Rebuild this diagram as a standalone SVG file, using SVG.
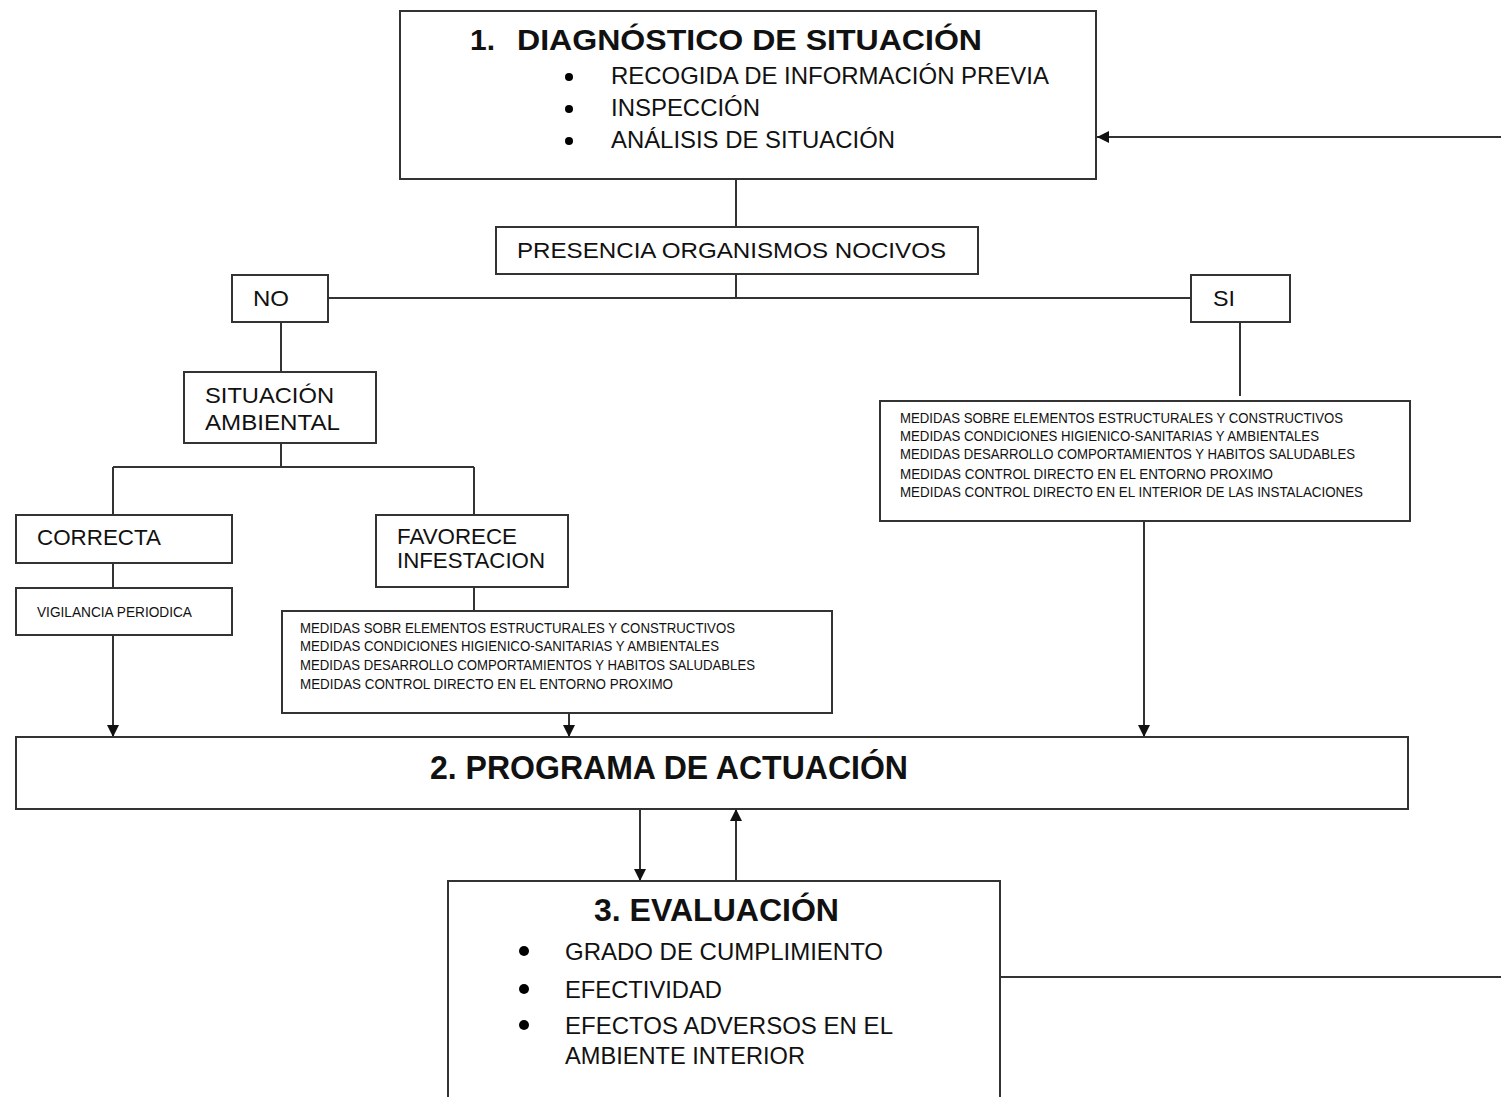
<svg xmlns="http://www.w3.org/2000/svg" width="1501" height="1097" viewBox="0 0 1501 1097">
<style>
.box{fill:#fff;stroke:#333;stroke-width:2}
.ln{fill:none;stroke:#333;stroke-width:2}
.arr{marker-end:url(#ah)}
text{font-family:"Liberation Sans",Arial,sans-serif;fill:#111}
.t{font-size:24px}
.m{font-size:22px}
.s{font-size:14px}
.b{font-weight:bold}
.dot{fill:#000}
</style>
<defs>
<marker id="ah" markerWidth="12" markerHeight="12" viewBox="0 0 12 12" refX="12" refY="6" orient="auto" markerUnits="userSpaceOnUse">
<path d="M0,0 L12,6 L0,12 z" fill="#111"/>
</marker>
</defs>
<g id="connectors">
<path class="ln" d="M736,179 V227"/>
<path class="ln" d="M736,274 V298 M328,298 H1191"/>
<path class="ln" d="M281,322 V372"/>
<path class="ln" d="M281,443 V467 M113,467 H474 M113,467 V515 M474,467 V515"/>
<path class="ln" d="M113,563 V588"/>
<path class="ln arr" d="M113,635 V737"/>
<path class="ln" d="M474,587 V611"/>
<path class="ln arr" d="M569,713 V737"/>
<path class="ln" d="M1240,322 V396"/>
<path class="ln arr" d="M1144,521 V737"/>
<path class="ln arr" d="M640,809 V881"/>
<path class="ln arr" d="M736,881 V809"/>
<path class="ln" d="M1000,977 H1501"/>
<path class="ln arr" d="M1501,137 H1097"/>
</g>
<g id="diagnostico">
<rect class="box" x="400" y="11" width="696" height="168"/>
<text class="b" x="470" y="50" font-size="30" textLength="25" lengthAdjust="spacingAndGlyphs">1.</text>
<text class="b" x="517" y="50" font-size="30" textLength="465" lengthAdjust="spacingAndGlyphs">DIAGNÓSTICO DE SITUACIÓN</text>
<circle class="dot" cx="569" cy="77" r="4"/>
<circle class="dot" cx="569" cy="109" r="4"/>
<circle class="dot" cx="569" cy="141" r="4"/>
<text class="t" x="611" y="84" textLength="438" lengthAdjust="spacingAndGlyphs">RECOGIDA DE INFORMACIÓN  PREVIA</text>
<text class="t" x="611" y="116" textLength="149" lengthAdjust="spacingAndGlyphs">INSPECCIÓN</text>
<text class="t" x="611" y="148" textLength="284" lengthAdjust="spacingAndGlyphs">ANÁLISIS DE SITUACIÓN</text>
</g>
<g id="presencia">
<rect class="box" x="496" y="227" width="482" height="47"/>
<text class="m" x="517" y="258" textLength="429" lengthAdjust="spacingAndGlyphs">PRESENCIA ORGANISMOS  NOCIVOS</text>
</g>
<g id="no">
<rect class="box" x="232" y="275" width="96" height="47"/>
<text class="m" x="253" y="306" textLength="36" lengthAdjust="spacingAndGlyphs">NO</text>
</g>
<g id="si">
<rect class="box" x="1191" y="275" width="99" height="47"/>
<text class="m" x="1213" y="306" textLength="22" lengthAdjust="spacingAndGlyphs">SI</text>
</g>
<g id="situacion">
<rect class="box" x="184" y="372" width="192" height="71"/>
<text class="m" x="205" y="403" textLength="129" lengthAdjust="spacingAndGlyphs">SITUACIÓN</text>
<text class="m" x="205" y="430" textLength="135" lengthAdjust="spacingAndGlyphs">AMBIENTAL</text>
</g>
<g id="correcta">
<rect class="box" x="16" y="515" width="216" height="48"/>
<text class="m" x="37" y="545" textLength="124" lengthAdjust="spacingAndGlyphs">CORRECTA</text>
</g>
<g id="favorece">
<rect class="box" x="376" y="515" width="192" height="72"/>
<text class="m" x="397" y="544" textLength="120" lengthAdjust="spacingAndGlyphs">FAVORECE</text>
<text class="m" x="397" y="568" textLength="148" lengthAdjust="spacingAndGlyphs">INFESTACION</text>
</g>
<g id="vigilancia">
<rect class="box" x="16" y="588" width="216" height="47"/>
<text class="s" x="37" y="617" textLength="155" lengthAdjust="spacingAndGlyphs">VIGILANCIA  PERIODICA</text>
</g>
<g id="medidas-favorece">
<rect class="box" x="282" y="611" width="550" height="102"/>
<text class="s" x="300" y="633" textLength="435" lengthAdjust="spacingAndGlyphs">MEDIDAS SOBR ELEMENTOS ESTRUCTURALES Y CONSTRUCTIVOS</text>
<text class="s" x="300" y="651" textLength="419" lengthAdjust="spacingAndGlyphs">MEDIDAS CONDICIONES HIGIENICO-SANITARIAS Y AMBIENTALES</text>
<text class="s" x="300" y="670" textLength="455" lengthAdjust="spacingAndGlyphs">MEDIDAS DESARROLLO COMPORTAMIENTOS Y HABITOS SALUDABLES</text>
<text class="s" x="300" y="689" textLength="373" lengthAdjust="spacingAndGlyphs">MEDIDAS CONTROL DIRECTO EN EL ENTORNO PROXIMO</text>
</g>
<g id="medidas-si">
<rect class="box" x="880" y="401" width="530" height="120"/>
<text class="s" x="900" y="423" textLength="443" lengthAdjust="spacingAndGlyphs">MEDIDAS SOBRE ELEMENTOS ESTRUCTURALES Y CONSTRUCTIVOS</text>
<text class="s" x="900" y="441" textLength="419" lengthAdjust="spacingAndGlyphs">MEDIDAS CONDICIONES HIGIENICO-SANITARIAS Y AMBIENTALES</text>
<text class="s" x="900" y="459" textLength="455" lengthAdjust="spacingAndGlyphs">MEDIDAS DESARROLLO COMPORTAMIENTOS Y HABITOS SALUDABLES</text>
<text class="s" x="900" y="479" textLength="373" lengthAdjust="spacingAndGlyphs">MEDIDAS CONTROL DIRECTO EN EL ENTORNO PROXIMO</text>
<text class="s" x="900" y="497" textLength="463" lengthAdjust="spacingAndGlyphs">MEDIDAS CONTROL DIRECTO EN EL INTERIOR DE LAS INSTALACIONES</text>
</g>
<g id="programa">
<rect class="box" x="16" y="737" width="1392" height="72"/>
<text class="b" x="430" y="779" font-size="33" textLength="478" lengthAdjust="spacingAndGlyphs">2. PROGRAMA DE ACTUACIÓN</text>
</g>
<g id="evaluacion">
<rect class="box" x="448" y="881" width="552" height="230"/>
<text class="b" x="594" y="921" font-size="32" textLength="245" lengthAdjust="spacingAndGlyphs">3. EVALUACIÓN</text>
<circle class="dot" cx="524" cy="951" r="5"/>
<circle class="dot" cx="524" cy="989" r="5"/>
<circle class="dot" cx="524" cy="1025" r="5"/>
<text class="t" x="565" y="960" textLength="318" lengthAdjust="spacingAndGlyphs">GRADO DE CUMPLIMIENTO</text>
<text class="t" x="565" y="998" textLength="157" lengthAdjust="spacingAndGlyphs">EFECTIVIDAD</text>
<text class="t" x="565" y="1034" textLength="328" lengthAdjust="spacingAndGlyphs">EFECTOS ADVERSOS EN EL</text>
<text class="t" x="565" y="1064" textLength="240" lengthAdjust="spacingAndGlyphs">AMBIENTE INTERIOR</text>
</g>
</svg>
